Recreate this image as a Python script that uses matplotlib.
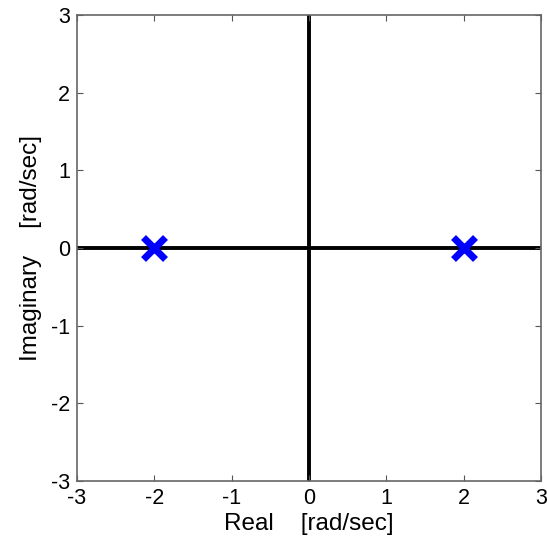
import matplotlib
matplotlib.use("Agg")
import matplotlib.pyplot as plt

plt.rcParams['font.family'] = ['Liberation Sans', 'DejaVu Sans']
plt.rcParams['axes.unicode_minus'] = False

# Pole locations (real, imaginary) in rad/sec
pole_real = [-2.0, 2.0]
pole_imag = [0.0, 0.0]

ticks = [-3, -2, -1, 0, 1, 2, 3]

fig = plt.figure(figsize=(5.47, 5.46), dpi=100)
ax = fig.add_axes([0.1408, 0.119, 0.848, 0.8535])

ax.axhline(0, color='black', lw=2.8, zorder=1)
ax.axvline(0, color='black', lw=2.8, zorder=1)
ax.plot(pole_real, pole_imag, linestyle='none', marker='x', color='#0000ff',
        markersize=16, markeredgewidth=5, zorder=3)

ax.set_xlim(-3, 3)
ax.set_ylim(-3, 3)
ax.set_xticks(ticks)
ax.set_yticks(ticks)
ax.tick_params(direction='in', length=4, width=0.8, color='#555555',
               labelsize=15.5, top=True, right=True, pad=5)
for s in ax.spines.values():
    s.set_color('#666666')
    s.set_linewidth(1.2)

ax.set_xlabel('Real    [rad/sec]', fontsize=17.5, labelpad=3)
ax.set_ylabel('Imaginary    [rad/sec]', fontsize=17.5, labelpad=6)

fig.savefig('out.png', dpi=100)
